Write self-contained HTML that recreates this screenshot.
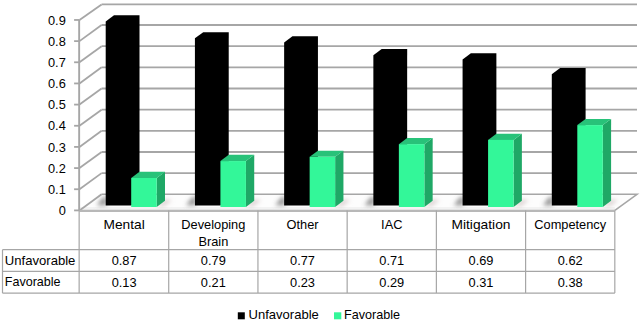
<!DOCTYPE html>
<html><head><meta charset="utf-8"><style>
html,body{margin:0;padding:0;background:#fff;}
body{width:640px;height:322px;overflow:hidden;}
svg{display:block;}
text{font-family:"Liberation Sans",sans-serif;font-size:12.8px;fill:#000;}
</style></head><body>
<svg width="640" height="322" viewBox="0 0 640 322">
<defs><filter id="blur" x="-20%" y="-20%" width="140%" height="140%"><feGaussianBlur stdDeviation="2"/></filter></defs>
<polygon points="79.5,210.4 614.9,210.4 637,194.3 101.6,194.3" fill="#fdfdfd"/>
<polygon points="79.5,207 614.9,207 614.9,211 79.5,211" fill="#f3f3f3"/>
<line x1="79.5" y1="210.4" x2="101.6" y2="194.3" stroke="#a6a6a6" stroke-width="1.8"/>
<line x1="74.1" y1="210.4" x2="79.5" y2="210.4" stroke="#a6a6a6" stroke-width="1.8"/>
<text x="65.8" y="215" text-anchor="end">0</text>
<line x1="101.6" y1="173.14" x2="637" y2="173.14" stroke="#a6a6a6" stroke-width="1.8"/>
<line x1="79.5" y1="189.24" x2="101.6" y2="173.14" stroke="#a6a6a6" stroke-width="1.8"/>
<line x1="74.1" y1="189.24" x2="79.5" y2="189.24" stroke="#a6a6a6" stroke-width="1.8"/>
<text x="65.8" y="193.84" text-anchor="end">0.1</text>
<line x1="101.6" y1="151.98" x2="637" y2="151.98" stroke="#a6a6a6" stroke-width="1.8"/>
<line x1="79.5" y1="168.08" x2="101.6" y2="151.98" stroke="#a6a6a6" stroke-width="1.8"/>
<line x1="74.1" y1="168.08" x2="79.5" y2="168.08" stroke="#a6a6a6" stroke-width="1.8"/>
<text x="65.8" y="172.68" text-anchor="end">0.2</text>
<line x1="101.6" y1="130.82" x2="637" y2="130.82" stroke="#a6a6a6" stroke-width="1.8"/>
<line x1="79.5" y1="146.92" x2="101.6" y2="130.82" stroke="#a6a6a6" stroke-width="1.8"/>
<line x1="74.1" y1="146.92" x2="79.5" y2="146.92" stroke="#a6a6a6" stroke-width="1.8"/>
<text x="65.8" y="151.52" text-anchor="end">0.3</text>
<line x1="101.6" y1="109.66" x2="637" y2="109.66" stroke="#a6a6a6" stroke-width="1.8"/>
<line x1="79.5" y1="125.76" x2="101.6" y2="109.66" stroke="#a6a6a6" stroke-width="1.8"/>
<line x1="74.1" y1="125.76" x2="79.5" y2="125.76" stroke="#a6a6a6" stroke-width="1.8"/>
<text x="65.8" y="130.36" text-anchor="end">0.4</text>
<line x1="101.6" y1="88.5" x2="637" y2="88.5" stroke="#a6a6a6" stroke-width="1.8"/>
<line x1="79.5" y1="104.6" x2="101.6" y2="88.5" stroke="#a6a6a6" stroke-width="1.8"/>
<line x1="74.1" y1="104.6" x2="79.5" y2="104.6" stroke="#a6a6a6" stroke-width="1.8"/>
<text x="65.8" y="109.2" text-anchor="end">0.5</text>
<line x1="101.6" y1="67.34" x2="637" y2="67.34" stroke="#a6a6a6" stroke-width="1.8"/>
<line x1="79.5" y1="83.44" x2="101.6" y2="67.34" stroke="#a6a6a6" stroke-width="1.8"/>
<line x1="74.1" y1="83.44" x2="79.5" y2="83.44" stroke="#a6a6a6" stroke-width="1.8"/>
<text x="65.8" y="88.04" text-anchor="end">0.6</text>
<line x1="101.6" y1="46.18" x2="637" y2="46.18" stroke="#a6a6a6" stroke-width="1.8"/>
<line x1="79.5" y1="62.28" x2="101.6" y2="46.18" stroke="#a6a6a6" stroke-width="1.8"/>
<line x1="74.1" y1="62.28" x2="79.5" y2="62.28" stroke="#a6a6a6" stroke-width="1.8"/>
<text x="65.8" y="66.88" text-anchor="end">0.7</text>
<line x1="101.6" y1="25.02" x2="637" y2="25.02" stroke="#a6a6a6" stroke-width="1.8"/>
<line x1="79.5" y1="41.12" x2="101.6" y2="25.02" stroke="#a6a6a6" stroke-width="1.8"/>
<line x1="74.1" y1="41.12" x2="79.5" y2="41.12" stroke="#a6a6a6" stroke-width="1.8"/>
<text x="65.8" y="45.72" text-anchor="end">0.8</text>
<line x1="101.6" y1="4.4" x2="637" y2="4.4" stroke="#a6a6a6" stroke-width="1.8"/>
<line x1="79.5" y1="19.96" x2="101.6" y2="4.4" stroke="#a6a6a6" stroke-width="1.8"/>
<line x1="74.1" y1="19.96" x2="79.5" y2="19.96" stroke="#a6a6a6" stroke-width="1.8"/>
<text x="65.8" y="24.56" text-anchor="end">0.9</text>
<polyline points="614.9,210.4 637,194.3 101.6,194.3" fill="none" stroke="#a6a6a6" stroke-width="1.6"/>
<line x1="79.5" y1="210.8" x2="614.9" y2="210.8" stroke="#b8b8b8" stroke-width="2.2"/>
<line x1="79.15" y1="19.96" x2="79.15" y2="210.4" stroke="#a6a6a6" stroke-width="1.9"/>
<g filter="url(#blur)"><polygon points="106.7,205.5 96.7,205.5 101.7,198.5 106.7,195.5" fill="#707070" opacity="0.7"/><polygon points="156.7,206.5 165,199.3 172,200.3 163.7,206.5" fill="#c8b8b8" opacity="0.6"/><polygon points="195.92,205.5 185.92,205.5 190.92,198.5 195.92,195.5" fill="#707070" opacity="0.7"/><polygon points="245.92,206.5 254.22,199.3 261.22,200.3 252.92,206.5" fill="#c8b8b8" opacity="0.6"/><polygon points="285.14,205.5 275.14,205.5 280.14,198.5 285.14,195.5" fill="#707070" opacity="0.7"/><polygon points="335.14,206.5 343.44,199.3 350.44,200.3 342.14,206.5" fill="#c8b8b8" opacity="0.6"/><polygon points="374.36,205.5 364.36,205.5 369.36,198.5 374.36,195.5" fill="#707070" opacity="0.7"/><polygon points="424.36,206.5 432.66,199.3 439.66,200.3 431.36,206.5" fill="#c8b8b8" opacity="0.6"/><polygon points="463.58,205.5 453.58,205.5 458.58,198.5 463.58,195.5" fill="#707070" opacity="0.7"/><polygon points="513.58,206.5 521.88,199.3 528.88,200.3 520.58,206.5" fill="#c8b8b8" opacity="0.6"/><polygon points="552.8,205.5 542.8,205.5 547.8,198.5 552.8,195.5" fill="#707070" opacity="0.7"/><polygon points="602.8,206.5 611.1,199.3 618.1,200.3 609.8,206.5" fill="#c8b8b8" opacity="0.6"/></g>
<polygon points="105.7,205.4 105.7,21.41 114,15.21 139.5,15.21 139.5,199.2 131.2,205.4" fill="#000"/>
<polygon points="156.7,177.99 165,171.79 165,200.8 156.7,207" fill="#1fa866"/><polygon points="131.2,177.99 139.5,171.79 165,171.79 156.7,177.99" fill="#28c279"/><rect x="131.2" y="177.99" width="25.5" height="29.01" fill="#33f799"/>
<polygon points="194.92,205.4 194.92,38.34 203.22,32.14 228.72,32.14 228.72,199.2 220.42,205.4" fill="#000"/>
<polygon points="245.92,161.06 254.22,154.86 254.22,200.8 245.92,207" fill="#1fa866"/><polygon points="220.42,161.06 228.72,154.86 254.22,154.86 245.92,161.06" fill="#28c279"/><rect x="220.42" y="161.06" width="25.5" height="45.94" fill="#33f799"/>
<polygon points="284.14,205.4 284.14,42.57 292.44,36.37 317.94,36.37 317.94,199.2 309.64,205.4" fill="#000"/>
<polygon points="335.14,156.83 343.44,150.63 343.44,200.8 335.14,207" fill="#1fa866"/><polygon points="309.64,156.83 317.94,150.63 343.44,150.63 335.14,156.83" fill="#28c279"/><rect x="309.64" y="156.83" width="25.5" height="50.17" fill="#33f799"/>
<polygon points="373.36,205.4 373.36,55.26 381.66,49.06 407.16,49.06 407.16,199.2 398.86,205.4" fill="#000"/>
<polygon points="424.36,144.14 432.66,137.94 432.66,200.8 424.36,207" fill="#1fa866"/><polygon points="398.86,144.14 407.16,137.94 432.66,137.94 424.36,144.14" fill="#28c279"/><rect x="398.86" y="144.14" width="25.5" height="62.86" fill="#33f799"/>
<polygon points="462.58,205.4 462.58,59.5 470.88,53.3 496.38,53.3 496.38,199.2 488.08,205.4" fill="#000"/>
<polygon points="513.58,139.9 521.88,133.7 521.88,200.8 513.58,207" fill="#1fa866"/><polygon points="488.08,139.9 496.38,133.7 521.88,133.7 513.58,139.9" fill="#28c279"/><rect x="488.08" y="139.9" width="25.5" height="67.1" fill="#33f799"/>
<polygon points="551.8,205.4 551.8,74.31 560.1,68.11 585.6,68.11 585.6,199.2 577.3,205.4" fill="#000"/>
<polygon points="602.8,125.09 611.1,118.89 611.1,200.8 602.8,207" fill="#1fa866"/><polygon points="577.3,125.09 585.6,118.89 611.1,118.89 602.8,125.09" fill="#28c279"/><rect x="577.3" y="125.09" width="25.5" height="81.91" fill="#33f799"/>
<line x1="2.5" y1="249.7" x2="614.9" y2="249.7" stroke="#a6a6a6" stroke-width="1.2"/>
<line x1="2.5" y1="271.4" x2="614.9" y2="271.4" stroke="#a6a6a6" stroke-width="1.2"/>
<line x1="2.5" y1="293.1" x2="614.9" y2="293.1" stroke="#a6a6a6" stroke-width="1.2"/>
<line x1="2.5" y1="249.7" x2="2.5" y2="293.1" stroke="#a6a6a6" stroke-width="1.2"/>
<line x1="79.15" y1="210.4" x2="79.15" y2="293.1" stroke="#a6a6a6" stroke-width="1.2"/>
<line x1="168.72" y1="210.4" x2="168.72" y2="293.1" stroke="#a6a6a6" stroke-width="1.2"/>
<line x1="257.94" y1="210.4" x2="257.94" y2="293.1" stroke="#a6a6a6" stroke-width="1.2"/>
<line x1="347.16" y1="210.4" x2="347.16" y2="293.1" stroke="#a6a6a6" stroke-width="1.2"/>
<line x1="436.38" y1="210.4" x2="436.38" y2="293.1" stroke="#a6a6a6" stroke-width="1.2"/>
<line x1="525.6" y1="210.4" x2="525.6" y2="293.1" stroke="#a6a6a6" stroke-width="1.2"/>
<line x1="614.82" y1="210.4" x2="614.82" y2="293.1" stroke="#a6a6a6" stroke-width="1.2"/>
<text x="124.11" y="229.3" text-anchor="middle" textLength="41.2" lengthAdjust="spacingAndGlyphs">Mental</text>
<text x="124.11" y="264.6" text-anchor="middle">0.87</text>
<text x="124.11" y="286.5" text-anchor="middle">0.13</text>
<text x="213.33" y="229.3" text-anchor="middle">Developing</text>
<text x="213.33" y="245.7" text-anchor="middle">Brain</text>
<text x="213.33" y="264.6" text-anchor="middle">0.79</text>
<text x="213.33" y="286.5" text-anchor="middle">0.21</text>
<text x="302.55" y="229.3" text-anchor="middle">Other</text>
<text x="302.55" y="264.6" text-anchor="middle">0.77</text>
<text x="302.55" y="286.5" text-anchor="middle">0.23</text>
<text x="391.77" y="229.3" text-anchor="middle">IAC</text>
<text x="391.77" y="264.6" text-anchor="middle">0.71</text>
<text x="391.77" y="286.5" text-anchor="middle">0.29</text>
<text x="480.99" y="229.3" text-anchor="middle" textLength="59.0" lengthAdjust="spacingAndGlyphs">Mitigation</text>
<text x="480.99" y="264.6" text-anchor="middle">0.69</text>
<text x="480.99" y="286.5" text-anchor="middle">0.31</text>
<text x="570.21" y="229.3" text-anchor="middle">Competency</text>
<text x="570.21" y="264.6" text-anchor="middle">0.62</text>
<text x="570.21" y="286.5" text-anchor="middle">0.38</text>
<text x="4.8" y="264.5" textLength="70.6" lengthAdjust="spacingAndGlyphs">Unfavorable</text>
<text x="4.8" y="286.4" textLength="55.8" lengthAdjust="spacingAndGlyphs">Favorable</text>
<rect x="237.8" y="312.3" width="7" height="7" fill="#000"/>
<text x="248.5" y="318.9" textLength="70.3" lengthAdjust="spacingAndGlyphs">Unfavorable</text>
<rect x="334" y="312.3" width="7.3" height="7" fill="#33f799"/>
<text x="344" y="318.9" textLength="56.1" lengthAdjust="spacingAndGlyphs">Favorable</text>
</svg>
</body></html>
